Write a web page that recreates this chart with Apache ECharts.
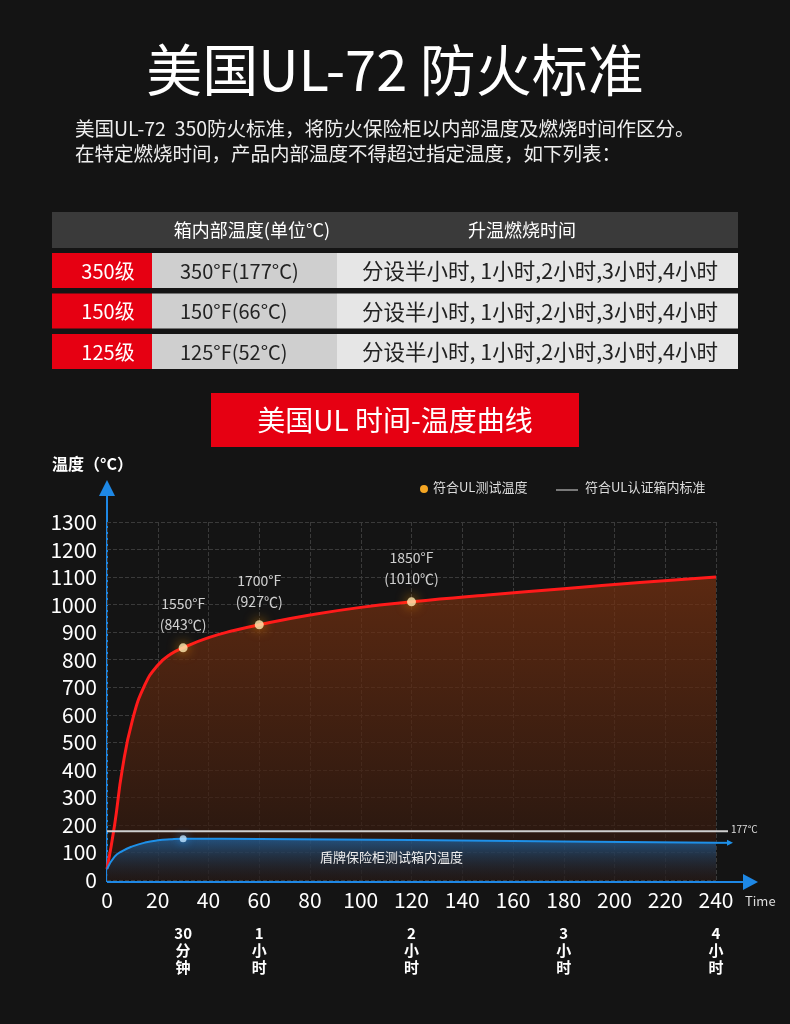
<!DOCTYPE html>
<html><head><meta charset="utf-8">
<script src="https://cdn.jsdelivr.net/npm/echarts@6/dist/echarts.min.js"></script>
<style>html,body{margin:0;background:#141414}#c{width:790px;height:1024px}</style>
</head><body><div id="c"></div>
<script>
const titleText = '美国UL-72 防火标准';
const introLines = ['美国UL-72  350防火标准，将防火保险柜以内部温度及燃烧时间作区分。','在特定燃烧时间，产品内部温度不得超过指定温度，如下列表：'];
const tableHeader = ['', '箱内部温度(单位°C)', '升温燃烧时间'];
const tableRows = [
  ['350级','350°F(177°C)','分设半小时, 1小时,2小时,3小时,4小时'],
  ['150级','150°F(66°C)','分设半小时, 1小时,2小时,3小时,4小时'],
  ['125级','125°F(52°C)','分设半小时, 1小时,2小时,3小时,4小时']
];
const chartTitle = '美国UL 时间-温度曲线';
const ulCurve = [[0,40],[3,200],[6,400],[10,580],[15,710],[20,780],[25,820],[30,843],[40,880],[50,906],[60,927],[80,962],[100,990],[120,1010],[150,1035],[180,1058],[210,1080],[240,1100]];
const ulMarks = [[30,843,'1550°F\n(843℃)'],[60,927,'1700°F\n(927℃)'],[120,1010,'1850°F\n(1010℃)']];
const boxCurve = [[0,40],[3,85],[6,105],[10,122],[15,136],[20,144],[25,148],[30,150],[60,149],[120,145],[180,140],[240,135]];
const stdLine = 177;
const bottomMarks = [[30,'30\n分\n钟'],[60,'1\n小\n时'],[120,'2\n小\n时'],[180,'3\n小\n时'],[240,'4\n小\n时']];
const F = 'Noto Sans CJK SC';

const chart = echarts.init(document.getElementById('c'));
const g = [];
g.push({type:'text',left:'center',top:42,style:{text:titleText,fill:'#fff',font:'normal 56px '+F}});
introLines.forEach((t,i)=>g.push({type:'text',left:75,top:119+i*25,style:{text:t,fill:'#eee',font:'19.5px '+F}}));
g.push({type:'rect',shape:{x:52,y:212,width:686,height:36},style:{fill:'#3a3a3a'}});
g.push({type:'text',x:252,y:230,style:{text:tableHeader[1],fill:'#fff',font:'18px '+F,align:'center',verticalAlign:'middle'}});
g.push({type:'text',x:522,y:230,style:{text:tableHeader[2],fill:'#fff',font:'18px '+F,align:'center',verticalAlign:'middle'}});
tableRows.forEach((r,i)=>{
  const y=253+i*40.5;
  g.push({type:'rect',shape:{x:52,y:y,width:100,height:35},style:{fill:'#e60012'}});
  g.push({type:'rect',shape:{x:152,y:y,width:185,height:35},style:{fill:'#cfcfcf'}});
  g.push({type:'rect',shape:{x:337,y:y,width:401,height:35},style:{fill:'#e6e6e6'}});
  g.push({type:'text',x:108,y:y+18,style:{text:r[0],fill:'#fff',font:'20px '+F,align:'center',verticalAlign:'middle'}});
  g.push({type:'text',x:180,y:y+18,style:{text:r[1],fill:'#222',font:'20px '+F,align:'left',verticalAlign:'middle'}});
  g.push({type:'text',x:362,y:y+18,style:{text:r[2],fill:'#222',font:'21.5px '+F,align:'left',verticalAlign:'middle'}});
});
g.push({type:'rect',shape:{x:211,y:393,width:368,height:54},style:{fill:'#e60012'}});
g.push({type:'text',x:395,y:420,style:{text:chartTitle,fill:'#fff',font:'28px '+F,align:'center',verticalAlign:'middle'}});
g.push({type:'text',left:52,top:456,style:{text:'温度（°C）',fill:'#fff',font:'bold 16px '+F}});
g.push({type:'circle',shape:{cx:424,cy:489,r:4},style:{fill:'#f5a623'}});
g.push({type:'text',left:433,top:481,style:{text:'符合UL测试温度',fill:'#ddd',font:'13px '+F}});
g.push({type:'line',shape:{x1:556,y1:490,x2:578,y2:490},style:{stroke:'#ddd',lineWidth:1}});
g.push({type:'text',left:585,top:481,style:{text:'符合UL认证箱内标准',fill:'#ddd',font:'13px '+F}});
g.push({type:'line',shape:{x1:107,y1:882,x2:107,y2:495},style:{stroke:'#1e88e5',lineWidth:2}});
g.push({type:'polygon',shape:{points:[[99,496],[115,496],[107,480]]},style:{fill:'#1e88e5'}});
g.push({type:'line',shape:{x1:107,y1:882,x2:745,y2:882},style:{stroke:'#1e88e5',lineWidth:2}});
g.push({type:'polygon',shape:{points:[[743,874],[743,890],[758,882]]},style:{fill:'#1e88e5'}});
g.push({type:'text',left:745,top:895,style:{text:'Time',fill:'#ddd',font:'13px '+F}});

const option = {
  backgroundColor:'#141414',
  grid:{left:107,right:74,top:522,bottom:144},
  xAxis:{type:'value',min:0,max:240,interval:20,axisLine:{show:false},axisTick:{show:false},
    splitLine:{show:true,lineStyle:{color:'#3a3a3a',type:'dashed'}},
    axisLabel:{color:'#fff',fontSize:21,fontFamily:F,margin:10,formatter:v=>String(v)}},
  yAxis:{type:'value',min:0,max:1300,interval:100,axisLine:{show:false},axisTick:{show:false},
    splitLine:{show:true,lineStyle:{color:'#3a3a3a',type:'dashed'}},
    axisLabel:{color:'#fff',fontSize:21,fontFamily:F,margin:10,formatter:v=>String(v)}},
  series:[
    {type:'line',data:ulCurve,smooth:true,showSymbol:false,lineStyle:{color:'#ff1a1a',width:3},
      areaStyle:{color:new echarts.graphic.LinearGradient(0,0,0,1,[{offset:0,color:'#7a3210'},{offset:1,color:'#2a160e'}])},z:2},
    {type:'line',data:boxCurve,smooth:true,showSymbol:false,lineStyle:{color:'#1e90e8',width:2},
      areaStyle:{origin:'start',color:new echarts.graphic.LinearGradient(0,0,0,1,[{offset:0,color:'rgba(30,120,200,0.85)'},{offset:1,color:'rgba(20,40,60,0.2)'}])},z:3},
    {type:'scatter',data:ulMarks.map(d=>[d[0],d[1],d[2]]),symbolSize:9,
      itemStyle:{color:'#ffe9b0',shadowBlur:12,shadowColor:'#ff9900'},
      label:{show:true,position:'top',distance:8,formatter:p=>p.data[2],color:'#fff',fontSize:14,fontFamily:F,lineHeight:21},z:5},
    {type:'scatter',data:[[30,150]],symbolSize:7,itemStyle:{color:'#bfe4ff',shadowBlur:10,shadowColor:'#2a9cff'},z:5}
  ],
  graphic:g
};
chart.setOption(option);
const p0 = chart.convertToPixel({gridIndex:0},[0,stdLine]);
const extra = [];
extra.push({type:'line',shape:{x1:107,y1:p0[1],x2:728,y2:p0[1]},style:{stroke:'#cfcfcf',lineWidth:2},z:10});
extra.push({type:'text',left:731,top:p0[1]-7,style:{text:stdLine+'°C',fill:'#ddd',font:'10px '+F},z:10});
const pb = chart.convertToPixel({gridIndex:0},[240,boxCurve[boxCurve.length-1][1]]);
extra.push({type:'line',shape:{x1:pb[0],y1:pb[1],x2:728,y2:pb[1]},style:{stroke:'#1e90e8',lineWidth:2},z:10});
extra.push({type:'polygon',shape:{points:[[727,pb[1]-3],[727,pb[1]+3],[733,pb[1]]]},style:{fill:'#1e90e8'},z:10});
const pm = chart.convertToPixel({gridIndex:0},[120,100]);
extra.push({type:'text',x:pm[0]-20,y:pb[1]+14,style:{text:'盾牌保险柜测试箱内温度',fill:'#eee',font:'13px '+F,align:'center',verticalAlign:'middle'},z:10});
bottomMarks.forEach(m=>{
  const p = chart.convertToPixel({gridIndex:0},[m[0],0]);
  extra.push({type:'text',x:p[0],y:925,style:{text:m[1],fill:'#fff',font:'bold 15px '+F,align:'center',lineHeight:17},z:10});
});
chart.setOption({graphic:g.concat(extra)});
</script></body></html>
